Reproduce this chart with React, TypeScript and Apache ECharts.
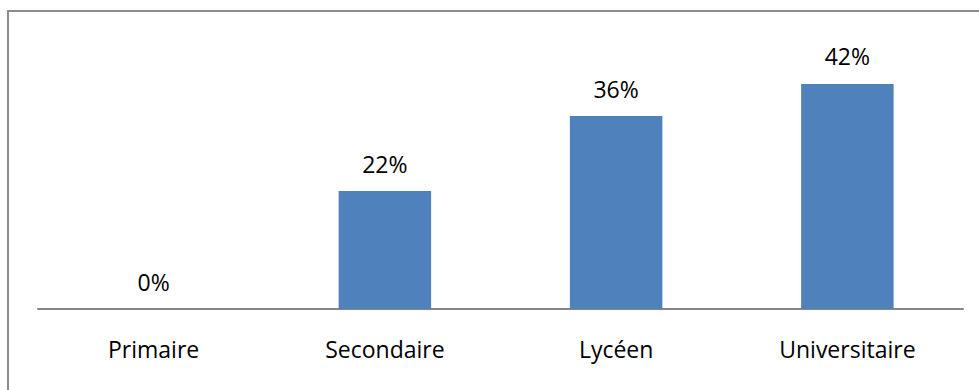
import React, { useEffect, useRef } from "react";
import * as echarts from "echarts";

// Niveau d'études : part des répondants par catégorie
const categories = ["Primaire", "Secondaire", "Lycéen", "Universitaire"];
const shares = [0, 22, 36, 42];

const FONT = "'Open Sans', 'Noto Sans', sans-serif";

export default function App() {
  const ref = useRef<HTMLDivElement | null>(null);

  useEffect(() => {
    if (!ref.current) return;
    const chart = echarts.init(ref.current, null, { renderer: "svg" });
    chart.setOption({
      animation: false,
      backgroundColor: "#ffffff",
      grid: { left: 38, right: 16, top: 41, bottom: 81, containLabel: false },
      graphic: [
        {
          type: "rect",
          shape: { x: 8, y: 11, width: 1000, height: 420 },
          style: { fill: "none", stroke: "#8c8c8c", lineWidth: 2 },
          silent: true,
          z: 10,
        },
      ],
      xAxis: {
        type: "category",
        data: categories,
        axisLine: { show: true, lineStyle: { color: "#868686", width: 2 } },
        axisTick: { show: false },
        axisLabel: {
          color: "#000000",
          fontFamily: FONT,
          fontSize: 23,
          margin: 28,
        },
      },
      yAxis: {
        type: "value",
        min: 0,
        max: 50,
        show: false,
        splitLine: { show: false },
      },
      series: [
        {
          type: "bar",
          data: shares,
          barWidth: "40%",
          itemStyle: { color: "#4f81bd" },
          label: {
            show: true,
            position: "top",
            distance: 16,
            formatter: "{c}%",
            color: "#000000",
            fontFamily: FONT,
            fontSize: 23,
          },
        },
      ],
    });
    return () => chart.dispose();
  }, []);

  return (
    <div
      ref={ref}
      style={{ position: "fixed", left: 0, top: 0, width: 979, height: 390 }}
    />
  );
}
